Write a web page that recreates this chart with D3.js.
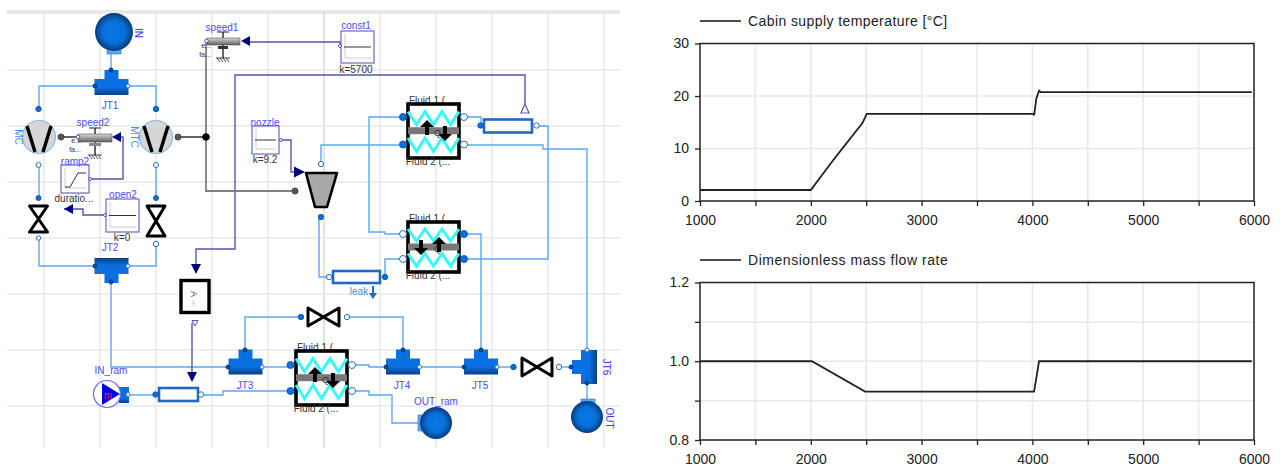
<!DOCTYPE html>
<html>
<head>
<meta charset="utf-8">
<script src="https://d3js.org/d3.v7.min.js"></script>
<style>
    body { margin: 0; background: #fff; }
    svg { display: block; font-family: "Liberation Sans", Arial, sans-serif; }
</style>
</head>
<body>
<div id="chart"></div>
<script>
// values
var tempTime = [1000, 2000, 2015, 2100, 2200, 2300, 2400, 2465, 2505, 4010, 4015, 4020, 4035, 4060, 4075, 5980]
var tempValues = [2.1, 2.1, 2.5, 4.9, 7.7, 10.4, 13.1, 14.8, 16.6, 16.6, 16.3, 17.0, 19.5, 21.0, 20.75, 20.75]
var flowTime = [1000, 2010, 2490, 4015, 4025, 4060, 5980]
var flowValues = [1.0, 1.0, 0.923, 0.923, 0.94, 1.0, 1.0]

var xTickValues = [1000, 1500, 2000, 2500, 3000, 3500, 4000, 4500, 5000, 5500, 6000]
var tempTicks = [0, 10, 20, 30]
var flowTicks = [0.8, 0.9, 1.0, 1.1, 1.2]

var tempLabel = "Cabin supply temperature [°C]"
var flowLabel = "Dimensionless mass flow rate"

// schematic layout
var gridX = [44, 100, 156, 212, 268, 324, 380, 436, 492, 548, 604]
var gridY = [70, 126, 182, 238, 294, 350, 406]

var fluidWires = [
    [[111, 52], [111, 70]],
    [[95, 86], [39, 86], [39, 109]],
    [[128, 86], [156, 86], [156, 109]],
    [[39, 165], [39, 198]],
    [[156, 165], [156, 198]],
    [[39, 238], [39, 266], [95, 266]],
    [[156, 244], [156, 266], [128, 266]],
    [[111, 282], [111, 367], [228, 367]],
    [[321, 164], [321, 145], [403, 145]],
    [[319, 217], [319, 277], [329, 277]],
    [[385, 277], [385, 259], [403, 259]],
    [[403, 117], [369, 117], [369, 232], [385, 232], [385, 234], [403, 234]],
    [[464, 117], [481, 117], [481, 125]],
    [[537, 126], [548, 126], [548, 259], [464, 259]],
    [[464, 145], [543, 145], [543, 149], [587, 149], [587, 350]],
    [[464, 234], [481, 234], [481, 350]],
    [[245, 350], [245, 317], [301, 317]],
    [[347, 317], [403, 317], [403, 350]],
    [[262, 367], [291, 367]],
    [[352, 365], [369, 365], [369, 367], [386, 367]],
    [[352, 391], [369, 391], [369, 395], [392, 395], [392, 423], [418, 423]],
    [[419, 367], [464, 367]],
    [[497, 367], [513, 367]],
    [[559, 367], [571, 367]],
    [[587, 383], [587, 400]],
    [[128, 395], [155, 395]],
    [[201, 395], [223, 395], [223, 391], [291, 391]]
]
var signalWires = [
    [[119, 137], [123, 137], [123, 179], [90, 179]],
    [[105, 215], [83, 215], [83, 209], [64, 209]],
    [[248, 42], [340, 42], [340, 46]],
    [[281, 140], [291, 140], [291, 172], [294, 172]],
    [[525, 104], [525, 75], [235, 75], [235, 249], [196, 249], [196, 264]],
    [[192, 323], [192, 372]]
]
var shaftWires = [
    [[206, 41], [206, 191], [295, 191]]
]
var blackWires = [
    [[61, 137], [78, 137]],
    [[178, 137], [206, 137]],
    [[95, 142], [95, 155]],
    [[95, 128], [95, 134]],
    [[223, 32], [223, 38]],
    [[223, 45], [223, 58]]
]
var tees = [
    { x: 111.5, y: 87, rot: 0 }, { x: 111.5, y: 266, rot: 180 }, { x: 245.5, y: 366.5, rot: 0 },
    { x: 403, y: 366.5, rot: 0 }, { x: 481, y: 366.5, rot: 0 }, { x: 589, y: 367, rot: -90 }
]
var boundaries = [
    { x: 114, y: 32, r: 19 }, { x: 436, y: 423, r: 16 }, { x: 587, y: 417, r: 16 }
]
var boundaryPorts = [
    { x: 107, y: 50, w: 14, h: 4 }, { x: 418, y: 415, w: 4, h: 16 }, { x: 581, y: 399, w: 14, h: 4 }
]
var compressors = [{ x: 39, y: 137 }, { x: 156, y: 137 }]
var hourglasses = [
    { x: 38.5, y0: 206, y1: 232, w: 9 }, { x: 156, y0: 206, y1: 236, w: 9 }
]
var bowties = [
    { x0: 308, x1: 339, y: 317, h: 9 }, { x0: 522, x1: 552, y: 367, h: 9 }
]
var exchangers = [
    { x: 408, y: 104, w: 51, h: 54, flip: false },
    { x: 408, y: 222, w: 51, h: 50, flip: true },
    { x: 296, y: 351, w: 51, h: 54, flip: false }
]
var pipes = [
    { x: 484, y: 119.5, w: 48, h: 13 }, { x: 333, y: 271, w: 47, h: 12 }, { x: 159, y: 388, w: 39, h: 13 }
]
var blocks = [
    { x: 61, y: 165, w: 28, h: 28, kind: "ramp" }, { x: 106, y: 199, w: 33, h: 33, kind: "const" },
    { x: 252, y: 126, w: 27, h: 28, kind: "const" }, { x: 341, y: 31, w: 33, h: 32, kind: "const" }
]
var bearings = [
    { x: 78, y: 134, w: 34, h: 8 }, { x: 207, y: 38, w: 33, h: 7 }
]
var grounds = [{ x: 95, y: 155 }, { x: 223, y: 58 }]
var navyArrows = [
    { x: 112, y: 137, dir: "left" }, { x: 64, y: 209, dir: "left" }, { x: 241, y: 41, dir: "left" },
    { x: 294, y: 172, dir: "right" }, { x: 196, y: 264, dir: "down" }, { x: 192, y: 372, dir: "down" }
]
var ports = [
    [38.5, 109, "fill", 2.7], [156, 109, "fill", 2.7], [38.5, 165, "open", 2.5], [156, 165, "open", 2.5],
    [38.5, 198, "fill", 2.5], [156, 198, "fill", 2.5], [38.5, 238, "open", 2.2], [156, 244, "open", 2.7],
    [61, 137, "gray", 3], [178, 137, "gray", 3], [295, 191, "gray", 3], [206, 137, "black", 3.3],
    [321, 164, "open", 2.7], [321, 217, "fill", 2.7], [329, 277, "open", 2.7], [385, 277, "fill", 2.7],
    [403, 117, "fill", 3.5], [403, 144.5, "fill", 3.5], [464, 117, "open", 3.5], [464, 144.5, "open", 3.5],
    [403, 234, "open", 3.5], [403, 259, "open", 3.5], [464, 234, "fill", 3.5], [464, 259, "fill", 3.5],
    [290.5, 365, "fill", 3.5], [290.5, 391, "fill", 3.5], [352, 365, "open", 3.5], [352, 391, "open", 3.5],
    [480.5, 125.5, "fill", 2.7], [536.5, 125.5, "open", 2.7], [155.5, 394.5, "fill", 2.7], [201, 394.5, "open", 2.7],
    [301, 317, "fill", 2.7], [347, 317, "open", 2.7], [513.5, 367, "fill", 2.7], [559, 367, "open", 2.7],
    [111, 70, "tee", 2], [95, 86, "tee", 2], [128, 86, "teeOpen", 2], [95, 266, "tee", 2], [128, 266, "teeOpen", 2],
    [111, 282, "tee", 2], [228, 367, "tee", 2], [262, 367, "teeOpen", 2], [245, 350, "tee", 2], [386, 367, "tee", 2],
    [419.5, 367, "teeOpen", 2], [403, 350, "tee", 2], [464, 367, "tee", 2], [497, 367, "teeOpen", 2], [481, 350, "tee", 2],
    [571, 367, "tee", 2], [587, 350, "teeOpen", 2], [587, 383, "tee", 2], [128, 394.5, "teeOpen", 2],
    [78, 137, "signal", 1.8], [206.5, 41, "signal", 1.8], [90, 179, "signal", 1.5], [105, 215, "signal", 1.5], [281, 140, "signal", 1.5], [340, 46, "signal", 1.5]
]
var blueLabels = [
    ["JT1", 110, 105], ["JT2", 110, 247], ["JT3", 245, 385], ["JT4", 402, 385], ["JT5", 480, 385],
    ["speed2", 93, 122], ["ramp2", 75, 161], ["open2", 123, 194], ["speed1", 222, 27],
    ["nozzle", 265, 122], ["const1", 356, 25], ["IN_ram", 111, 370], ["OUT_ram", 436, 401]
]
var darkLabels = [
    ["duratio...", 74, 198], ["k=0", 122, 237], ["k=9.2", 265, 159], ["k=5700", 356, 69],
    ["Fluid 2 (...", 428, 161], ["Fluid 2 (...", 428, 275], ["Fluid 2 (...", 316, 408]
]
// these sit partly behind the exchanger box
var hiddenLabels = [["Fluid 1 (", 427, 100], ["Fluid 1 (", 427, 218], ["Fluid 1 (", 315, 347]]
var tinyLabels = [["e...", 76, 143], ["fa...", 75, 152], ["e...", 206, 48], ["fa...", 205, 57]]
var sideLabels = [
    ["IN", 138, 33, "#3a3aff"], ["MC", 18, 137, "#4a90e0"], ["MTC", 134, 137, "#4a90e0"],
    ["JT6", 606, 367, "#3a3aff"], ["OUT", 609, 418, "#3a3aff"]
]

var svg = d3.select("#chart").append("svg").attr("width", 1280).attr("height", 467)
var defs = svg.append("defs")

var teeGrad = defs.append("linearGradient").attr("id", "teeGrad").attr("x1", 0).attr("y1", 0).attr("x2", 0).attr("y2", 1)
teeGrad.append("stop").attr("offset", "0%").attr("stop-color", "#0a6fe0")
teeGrad.append("stop").attr("offset", "70%").attr("stop-color", "#0a6fe0")
teeGrad.append("stop").attr("offset", "100%").attr("stop-color", "#0a3f80")

var ballGrad = defs.append("radialGradient").attr("id", "ballGrad")
ballGrad.append("stop").attr("offset", "0%").attr("stop-color", "#0878e8")
ballGrad.append("stop").attr("offset", "60%").attr("stop-color", "#0870d8")
ballGrad.append("stop").attr("offset", "100%").attr("stop-color", "#083a78")

var shaftGrad = defs.append("linearGradient").attr("id", "shaftGrad").attr("x1", 0).attr("y1", 0).attr("x2", 0).attr("y2", 1)
shaftGrad.append("stop").attr("offset", "0%").attr("stop-color", "#d8d8d8")
shaftGrad.append("stop").attr("offset", "100%").attr("stop-color", "#606060")

var line = d3.line()

drawDiagram()
drawPlot(43.5, 201, tempTime, tempValues, [0, 30], tempTicks, d3.format("d"), tempLabel, 21, 0.41)
drawPlot(282.5, 440, flowTime, flowValues, [0.8, 1.2], flowTicks, d3.format(".1f"), flowLabel, 260, 0.54)

function drawPlot(top, bottom, times, values, yDomain, yTicks, yFormat, label, legendY, spacing) {
    var left = 700, right = 1254
    var x = d3.scaleLinear().domain([1000, 6000]).range([left, right])
    var y = d3.scaleLinear().domain(yDomain).range([bottom, top])
    var g = svg.append("g")

    // grid
    g.selectAll("line.gx").data(xTickValues.slice(1, -1)).enter().append("line")
        .attr("x1", function (d) { return x(d) }).attr("x2", function (d) { return x(d) })
        .attr("y1", top).attr("y2", bottom)
        .attr("stroke", "#e8e8e8").attr("stroke-width", 1.5)
    g.selectAll("line.gy").data(yTicks.slice(1, -1)).enter().append("line")
        .attr("x1", left).attr("x2", right)
        .attr("y1", function (d) { return y(d) }).attr("y2", function (d) { return y(d) })
        .attr("stroke", "#e8e8e8").attr("stroke-width", 1.5)

    var xAxis = g.append("g")
        .attr("transform", "translate(0," + bottom + ")")
        .call(d3.axisBottom(x).tickValues(xTickValues).tickSize(5).tickPadding(9)
            .tickFormat(function (d) { return d % 1000 == 0 ? d : "" }))
    var yAxis = g.append("g")
        .attr("transform", "translate(" + left + ",0)")
        .call(d3.axisLeft(y).tickValues(yTicks).tickSize(5).tickPadding(6).tickFormat(function (d) {
            // labels only on every other tick of the 0.1 scale
            return yTicks.length == 5 && Math.round(d * 10) % 2 == 1 ? "" : yFormat(d)
        }))
    xAxis.selectAll("text").attr("font-size", 14).attr("font-family", "Liberation Sans").attr("fill", "#222")
    yAxis.selectAll("text").attr("font-size", 14).attr("font-family", "Liberation Sans").attr("fill", "#222")
    xAxis.selectAll("line").attr("stroke", "#222").attr("stroke-width", 1.3)
    yAxis.selectAll("line").attr("stroke", "#222").attr("stroke-width", 1.3)
    g.selectAll(".domain").remove()

    g.append("rect").attr("x", left).attr("y", top).attr("width", right - left).attr("height", bottom - top)
        .attr("fill", "none").attr("stroke", "#222").attr("stroke-width", 1.5)

    var plotLine = d3.line()
        .x(function (d, i) { return x(times[i]) })
        .y(function (d) { return y(d) })
    g.append("path").attr("d", plotLine(values))
        .attr("fill", "none").attr("stroke", "#222").attr("stroke-width", 1.8)

    // legend
    g.append("line").attr("x1", left).attr("x2", left + 41).attr("y1", legendY).attr("y2", legendY)
        .attr("stroke", "#111").attr("stroke-width", 1.3)
    g.append("text").attr("x", left + 48).attr("y", legendY + 5).attr("font-size", 14)
        .attr("letter-spacing", spacing).attr("fill", "#222").text(label)
}

function drawDiagram() {
    var g = svg.append("g")

    // grid
    g.append("rect").attr("x", 7).attr("y", 10).attr("width", 613).attr("height", 4).attr("fill", "#e8e8e8")
    g.selectAll("line.vg").data(gridX).enter().append("line")
        .attr("x1", function (d) { return d }).attr("x2", function (d) { return d })
        .attr("y1", 12).attr("y2", 448)
        .attr("stroke", function (d) { return d == 324 ? "#d8d8d8" : "#e8e8e8" }).attr("stroke-width", 1.5)
    g.selectAll("line.hg").data(gridY).enter().append("line")
        .attr("x1", 7).attr("x2", 620)
        .attr("y1", function (d) { return d }).attr("y2", function (d) { return d })
        .attr("stroke", "#e8e8e8").attr("stroke-width", 1.5)

    // wires
    drawWires(g, fluidWires, "#5aa8f5", 1.4)
    drawWires(g, signalWires, "#5656ac", 1.4)
    drawWires(g, shaftWires, "#808080", 1.8)
    drawWires(g, blackWires, "#222", 1.4)

    // tee junctions
    g.selectAll("path.tee").data(tees).enter().append("path")
        .attr("d", line([[-17, -8], [-7, -8], [-7, -17], [7, -17], [7, -8], [17, -8], [17, 8], [-17, 8]]) + "Z")
        .attr("transform", function (d) { return "translate(" + d.x + "," + d.y + ") rotate(" + d.rot + ")" })
        .attr("fill", "url(#teeGrad)")

    // boundaries
    g.selectAll("rect.bport").data(boundaryPorts).enter().append("rect")
        .attr("x", function (d) { return d.x }).attr("y", function (d) { return d.y })
        .attr("width", function (d) { return d.w }).attr("height", function (d) { return d.h })
        .attr("fill", "#5aa8f5").attr("stroke", "#2a70c0").attr("stroke-width", 0.6)
    g.selectAll("circle.ball").data(boundaries).enter().append("circle")
        .attr("cx", function (d) { return d.x }).attr("cy", function (d) { return d.y }).attr("r", function (d) { return d.r })
        .attr("fill", "url(#ballGrad)")

    // compressors
    var comp = g.selectAll("g.comp").data(compressors).enter().append("g")
        .attr("transform", function (d) { return "translate(" + d.x + "," + d.y + ")" })
    comp.append("circle").attr("r", 16.5).attr("fill", "#d6d6d6").attr("stroke", "#8ab8e8").attr("stroke-width", 1.2)
    comp.append("path").attr("d", line([[-12, -11], [-4, 15]])).attr("stroke", "#000").attr("stroke-width", 3.4)
    comp.append("path").attr("d", line([[12, -11], [4, 15]])).attr("stroke", "#000").attr("stroke-width", 3.4)

    // valves
    g.selectAll("path.hg").data(hourglasses).enter().append("path")
        .attr("d", function (d) {
            return line([[d.x - d.w, d.y0], [d.x + d.w, d.y0], [d.x - d.w, d.y1], [d.x + d.w, d.y1]]) + "Z"
        })
        .attr("fill", "#fff").attr("stroke", "#000").attr("stroke-width", 3).attr("stroke-linejoin", "round")
    g.selectAll("path.bt").data(bowties).enter().append("path")
        .attr("d", function (d) {
            return line([[d.x0, d.y - d.h], [d.x1, d.y + d.h], [d.x1, d.y - d.h], [d.x0, d.y + d.h]]) + "Z"
        })
        .attr("fill", "#fff").attr("stroke", "#000").attr("stroke-width", 3).attr("stroke-linejoin", "round")

    // turbine
    g.append("path").attr("d", line([[306, 173], [337, 173], [327, 207], [315, 207]]) + "Z")
        .attr("fill", "#a8a8a8").attr("stroke", "#000").attr("stroke-width", 2.6).attr("stroke-linejoin", "round")

    // heat exchangers
    g.selectAll("text.hl").data(hiddenLabels).enter().append("text")
        .attr("x", function (d) { return d[1] }).attr("y", function (d) { return d[2] + 3.5 })
        .attr("text-anchor", "middle").attr("font-size", 10).attr("fill", "#333")
        .text(function (d) { return d[0] })
    var hx = g.selectAll("g.hx").data(exchangers).enter().append("g")
        .attr("transform", function (d) { return "translate(" + d.x + "," + d.y + ")" })
    hx.append("rect").attr("width", function (d) { return d.w }).attr("height", function (d) { return d.h })
        .attr("fill", "#fff").attr("stroke", "#000").attr("stroke-width", 3.6)
    hx.append("path").attr("d", function (d) { return zigzag(d.w, d.h * 0.14, d.h * 0.38) })
        .attr("fill", "none").attr("stroke", "#38f8fa").attr("stroke-width", 3)
    hx.append("path").attr("d", function (d) { return zigzag(d.w, d.h * 0.63, d.h * 0.88) })
        .attr("fill", "none").attr("stroke", "#38f8fa").attr("stroke-width", 3)
    hx.append("rect").attr("x", 0).attr("width", function (d) { return d.w })
        .attr("y", function (d) { return d.h * 0.43 }).attr("height", 7).attr("fill", "#777")
    hx.append("text").attr("x", 26).attr("y", function (d) { return d.h * 0.5 + 5 })
        .attr("font-size", 9).attr("fill", "#333").text("Q")
    hx.each(function (d) {
        var h = d3.select(this), m = d.h / 2
        drawBigArrow(h, d.flip ? 31 : 19, m + (d.flip ? 5 : 4), -1)
        drawBigArrow(h, d.flip ? 13 : 37, m + (d.flip ? -7 : -5), 1)
    })

    // pipes
    g.selectAll("rect.pipe").data(pipes).enter().append("rect")
        .attr("x", function (d) { return d.x }).attr("y", function (d) { return d.y })
        .attr("width", function (d) { return d.w }).attr("height", function (d) { return d.h })
        .attr("fill", "#fff").attr("stroke", "#2168c0").attr("stroke-width", 2.6)

    // leak arrow
    g.append("path").attr("d", line([[373, 286], [373, 296]])).attr("stroke", "#2168c0").attr("stroke-width", 2)
    g.append("path").attr("d", line([[369, 293], [377, 293], [373, 299]]) + "Z").attr("fill", "#2168c0")

    // signal blocks
    var bl = g.selectAll("g.block").data(blocks).enter().append("g")
        .attr("transform", function (d) { return "translate(" + d.x + "," + d.y + ")" })
    bl.append("rect").attr("width", function (d) { return d.w }).attr("height", function (d) { return d.h })
        .attr("fill", "#fff").attr("stroke", "#6a6ac0").attr("stroke-width", 1.2)
    bl.append("path").attr("d", function (d) {
        return line([[d.w - 3, d.h - 5], [4, d.h - 5], [4, 3]])
    }).attr("fill", "none").attr("stroke", "#ccc").attr("stroke-width", 1)
    bl.append("path").attr("d", function (d) {
        if (d.kind == "ramp") return line([[4, d.h - 6], [9, d.h - 6], [17, 8], [d.w - 3, 8]])
        return line([[3, d.h / 2], [d.w - 3, d.h / 2]])
    }).attr("fill", "none").attr("stroke", "#333").attr("stroke-width", 1)

    // sensor box
    g.append("rect").attr("x", 181).attr("y", 280.5).attr("width", 28).attr("height", 32)
        .attr("fill", "#fff").attr("stroke", "#000").attr("stroke-width", 3.4)
    g.append("text").attr("transform", "translate(191,291) rotate(90)").attr("font-size", 9).attr("fill", "#555").text("A")
    g.append("text").attr("transform", "translate(193,300) rotate(90)").attr("font-size", 8).attr("fill", "#555").text("...")
    g.append("path").attr("d", line([[192, 320.5], [198, 320.5], [195, 326]]) + "Z")
        .attr("fill", "#fff").attr("stroke", "#5656ac").attr("stroke-width", 1)
    g.append("path").attr("d", line([[525, 104], [529, 113], [521, 113]]) + "Z")
        .attr("fill", "#fff").attr("stroke", "#5656ac").attr("stroke-width", 1.2)

    // mass flow source
    g.append("rect").attr("x", 119).attr("y", 387).attr("width", 10).attr("height", 16).attr("fill", "url(#teeGrad)")
    g.append("circle").attr("cx", 107).attr("cy", 394).attr("r", 13.5).attr("fill", "#fff").attr("stroke", "#6a6af0").attr("stroke-width", 1.2)
    g.append("path").attr("d", line([[102, 383], [120, 394], [102, 405]]) + "Z").attr("fill", "#0000f0")
    g.append("text").attr("x", 108).attr("y", 399).attr("text-anchor", "middle").attr("font-size", 10).attr("fill", "#e02040").text("m")

    // bearings and ground
    g.selectAll("rect.bear").data(bearings).enter().append("rect")
        .attr("x", function (d) { return d.x }).attr("y", function (d) { return d.y })
        .attr("width", function (d) { return d.w }).attr("height", function (d) { return d.h })
        .attr("fill", "url(#shaftGrad)").attr("stroke", "#555").attr("stroke-width", 0.6)
    g.append("path").attr("d", line([[89, 128], [101, 128]])).attr("stroke", "#222").attr("stroke-width", 1)
    g.append("path").attr("d", line([[217, 32], [229, 32]])).attr("stroke", "#222").attr("stroke-width", 1)
    g.append("rect").attr("x", 218).attr("y", 46).attr("width", 10).attr("height", 3).attr("fill", "#333")
    g.append("rect").attr("x", 89).attr("y", 143).attr("width", 12).attr("height", 3).attr("fill", "#888")
    var gr = g.selectAll("g.ground").data(grounds).enter().append("g")
        .attr("transform", function (d) { return "translate(" + d.x + "," + d.y + ")" })
    gr.append("path").attr("d", "M-7,0H7M-6,0l3,4M-3,0l3,4M0,0l3,4M3,0l3,4").attr("stroke", "#222").attr("stroke-width", 0.8).attr("fill", "none")

    // arrow heads
    g.selectAll("path.arrow").data(navyArrows).enter().append("path")
        .attr("d", function (d) {
            if (d.dir == "left") return line([[d.x, d.y], [d.x + 9, d.y - 5], [d.x + 9, d.y + 5]]) + "Z"
            if (d.dir == "right") return line([[d.x + 11, d.y], [d.x, d.y - 5.5], [d.x, d.y + 5.5]]) + "Z"
            return line([[d.x, d.y + 10], [d.x - 5, d.y], [d.x + 5, d.y]]) + "Z"
        })
        .attr("fill", "#00007f")

    // ports
    g.selectAll("circle.port").data(ports).enter().append("circle")
        .attr("cx", function (d) { return d[0] }).attr("cy", function (d) { return d[1] }).attr("r", function (d) { return d[3] })
        .attr("fill", function (d) {
            return { fill: "#0a70dc", open: "#fff", gray: "#555", black: "#000", tee: "#0a4a90", teeOpen: "#fff", signal: "#fff" }[d[2]]
        })
        .attr("stroke", function (d) {
            return { fill: "#1a5aa8", open: "#2a70c0", gray: "#444", black: "#000", tee: "#083a70", teeOpen: "#2a70c0", signal: "#5656ac" }[d[2]]
        })
        .attr("stroke-width", 1)

    // labels
    g.selectAll("text.bl").data(blueLabels).enter().append("text")
        .attr("x", function (d) { return d[1] }).attr("y", function (d) { return d[2] + 4 })
        .attr("text-anchor", "middle").attr("font-size", 10).attr("fill", "#4a4aff")
        .text(function (d) { return d[0] })
    g.selectAll("text.dl").data(darkLabels).enter().append("text")
        .attr("x", function (d) { return d[1] }).attr("y", function (d) { return d[2] + 3.5 })
        .attr("text-anchor", "middle").attr("font-size", 10).attr("fill", "#333")
        .text(function (d) { return d[0] })
    g.selectAll("text.tl").data(tinyLabels).enter().append("text")
        .attr("x", function (d) { return d[1] }).attr("y", function (d) { return d[2] })
        .attr("text-anchor", "middle").attr("font-size", 7).attr("fill", "#333")
        .text(function (d) { return d[0] })
    g.selectAll("text.sl").data(sideLabels).enter().append("text")
        .attr("transform", function (d) { return "translate(" + (d[1] - 3.5) + "," + d[2] + ") rotate(90)" })
        .attr("text-anchor", "middle").attr("font-size", 10).attr("fill", function (d) { return d[3] })
        .text(function (d) { return d[0] })

    g.append("text").attr("x", 359).attr("y", 295).attr("text-anchor", "middle").attr("font-size", 10).attr("fill", "#4a90e0").text("leak")
}

function drawWires(g, wires, color, width) {
    g.append("g").selectAll("path").data(wires).enter().append("path")
        .attr("d", line)
        .attr("fill", "none").attr("stroke", color).attr("stroke-width", width)
}

// saw-tooth of the heat exchanger fluid passage
function zigzag(w, y0, y1) {
    var pts = [[0, y0]]
    var n = 6
    for (var i = 1; i <= n; i++) {
        pts.push([w * i / n, i % 2 == 1 ? y1 : y0])
    }
    return line(pts)
}

// heat flow arrow, y is the tail end
function drawBigArrow(h, x, y, dir) {
    if (dir < 0) {
        h.append("path").attr("d", "M" + (x - 2) + "," + y + "v-8h-5l7,-7l7,7h-5v8z").attr("fill", "#000")
    } else {
        h.append("path").attr("d", "M" + (x - 2) + "," + y + "v8h-5l7,7l7,-7h-5v-8z").attr("fill", "#000")
    }
}
</script>
</body>
</html>
